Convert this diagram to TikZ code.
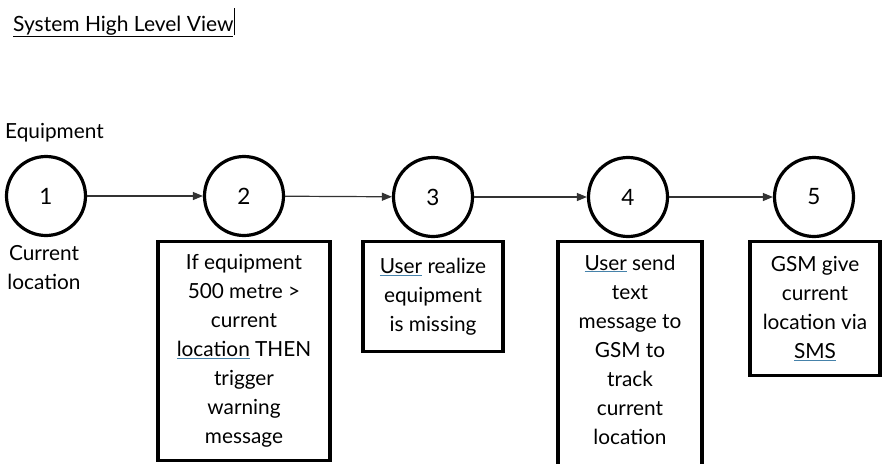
\documentclass[tikz,border=0pt]{standalone}
\usepackage{fontspec}
\setmainfont{Lato}
\usetikzlibrary{arrows.meta}
\definecolor{ulblue}{RGB}{70,130,170}
\newcommand\spellul[1]{\rlap{\color{ulblue}\underline{\phantom{#1}}}#1}
\tikzset{
  stepcircle/.style={circle,draw,line width=3.2pt,minimum size=79pt,inner sep=0pt,font=\fontsize{22.5}{28.5}\selectfont},
  stepbox/.style={rectangle,draw,line width=3.4pt,anchor=north,align=center,inner xsep=4pt,inner ysep=13pt,font=\fontsize{20.8}{29}\selectfont},
  flow/.style={line width=1.2pt,draw=black!80,-{Triangle[length=10pt,width=8pt]}},
  plain/.style={align=center,font=\fontsize{20.8}{29}\selectfont}
}
\begin{document}
\begin{tikzpicture}[x=1pt,y=-1pt]
\useasboundingbox (0,0) rectangle (882,463);
\node[anchor=base west,inner sep=0pt,font=\fontsize{21}{24}\selectfont] (title) at (13,31) {\underline{System High Level View}};
\draw[line width=0.9pt] (title.base east) ++(1,4) -- ++(0,-27);
\node[stepcircle] (c1) at (46,196) {1};
\node[stepcircle] (c2) at (244,196) {2};
\node[stepcircle] (c3) at (433,197) {3};
\node[stepcircle] (c4) at (628,197) {4};
\node[stepcircle] (c5) at (814,197) {5};
\node[plain,anchor=west,inner sep=0pt] (equip) at (5,133) {Equipment};
\node[plain,anchor=north,inner sep=0pt] (curloc) at (44,245) {Current\\location};
\node[stepbox,minimum width=172pt] (b2) at (244,240) {If equipment\\500 metre >\\current\\\spellul{location} THEN\\trigger\\warning\\message};
\node[stepbox,minimum width=140pt,minimum height=110pt] (b3) at (433,240) {\spellul{User} realize\\equipment\\is missing};
\node[stepbox,minimum width=144pt] (b4) at (630,240) {\spellul{User} send\\text\\message to\\GSM to\\track\\current\\location\\\mbox{}};
\node[stepbox,minimum width=130pt,minimum height=134pt] (b5) at (815,240) {GSM give\\current\\location via\\\spellul{SMS}};
\draw[flow] (c1) -- (c2);
\draw[flow] (c2) -- (c3);
\draw[flow] (c3) -- (c4);
\draw[flow] (c4) -- (c5);
\end{tikzpicture}
\end{document}
